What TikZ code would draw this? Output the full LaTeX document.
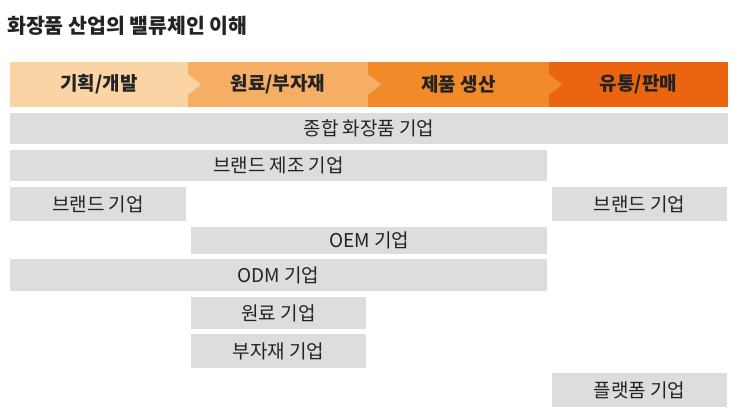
\documentclass[tikz,border=0pt]{standalone}
\usepackage{fontspec}
\setmainfont{Noto Sans CJK KR}
\usepackage{tikz}
\definecolor{segA}{RGB}{250,212,165}
\definecolor{segB}{RGB}{246,174,101}
\definecolor{segC}{RGB}{241,139,42}
\definecolor{segD}{RGB}{235,101,16}
\definecolor{barfill}{RGB}{220,221,221}
\definecolor{ink}{RGB}{35,35,35}
\tikzset{
    seg/.style={rectangle,draw=none,minimum height=45pt,inner sep=0pt,text=ink,font=\fontsize{19}{21}\selectfont\bfseries},
    bar/.style={rectangle,draw=none,fill=barfill,inner sep=0pt,text=ink,font=\fontsize{19}{21}\selectfont},
    ttl/.style={anchor=west,inner sep=0pt,text=ink,font=\fontsize{20.5}{23}\selectfont\bfseries},
}

\begin{document}
\begin{tikzpicture}[x=1pt,y=-1pt]
\useasboundingbox (0,0) rectangle (745,419);
\node[ttl] (title) at (7,26) {화장품 산업의 밸류체인 이해};
% value chain header
\node[seg,fill=segA,minimum width=178pt] (plan) at (99,84.5)  {기획/개발};
\node[seg,fill=segB,minimum width=180pt] (raw)  at (278,84.5) {원료/부자재};
\node[seg,fill=segC,minimum width=181pt] (prod) at (458.5,84.5) {제품 생산};
\node[seg,fill=segD,minimum width=179pt] (sale) at (638.5,84.5) {유통/판매};
\foreach \s/\c in {plan/segA,raw/segB,prod/segC}
    \fill[\c] ([yshift=10pt]\s.east) -- ++(13,10) -- ++(-13,10) -- cycle;
% companies
\node[bar,minimum width=718pt,minimum height=31pt] (total)  at (369,128.5)   {종합 화장품 기업};
\node[bar,minimum width=537pt,minimum height=31pt] (brandm) at (278.5,165.5) {브랜드 제조 기업};
\node[bar,minimum width=176pt,minimum height=34pt] (brandl) at (98,204)      {브랜드 기업};
\node[bar,minimum width=175pt,minimum height=34pt] (brandr) at (639.5,204)   {브랜드 기업};
\node[bar,minimum width=356pt,minimum height=27pt] (oem)    at (369,240.5)   {OEM 기업};
\node[bar,minimum width=537pt,minimum height=32pt] (odm)    at (278.5,275)   {ODM 기업};
\node[bar,minimum width=175pt,minimum height=32pt] (mat)    at (278.5,313)   {원료 기업};
\node[bar,minimum width=175pt,minimum height=34pt] (pack)   at (278.5,351)   {부자재 기업};
\node[bar,minimum width=175pt,minimum height=34pt] (plat)   at (639.5,390)   {플랫폼 기업};
\end{tikzpicture}
\end{document}
